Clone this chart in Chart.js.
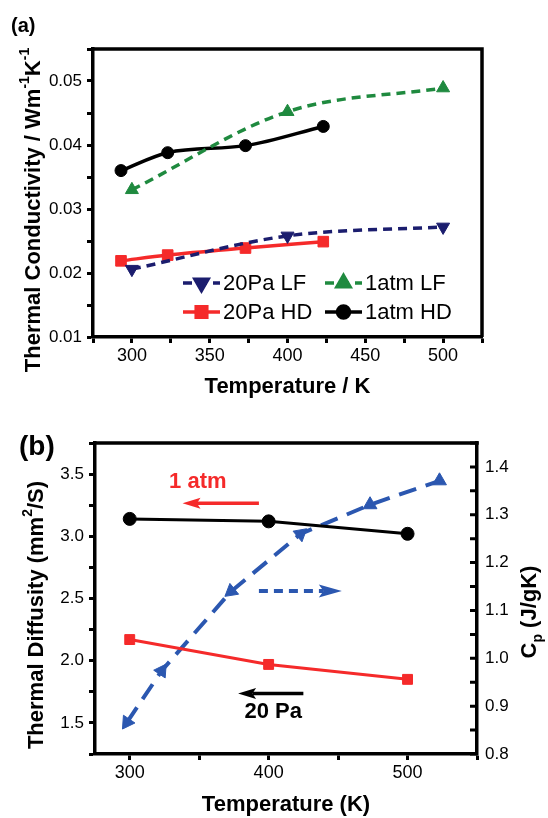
<!DOCTYPE html>
<html>
<head>
<meta charset="utf-8">
<script src="https://cdn.jsdelivr.net/npm/chart.js@4.4.1/dist/chart.umd.min.js"></script>
<style>
  html, body { margin: 0; padding: 0; background: #fff; }
  #wrap { position: relative; width: 548px; height: 818px; overflow: hidden; }
  #chartA { position: absolute; left: 0; top: 0; }
  #chartB { position: absolute; left: 0; top: 400px; }
</style>
</head>
<body>
<div id="wrap">
  <canvas id="chartA" width="548" height="400"></canvas>
  <canvas id="chartB" width="548" height="418"></canvas>
</div>
<script>
// ─── DATOS (a): conductividad térmica ──────────────────────────────────────
const tempLF   = [300, 400, 500];
const k20PaLF  = [0.0206, 0.0258, 0.0272];
const k1atmLF  = [0.0330, 0.0452, 0.0489];
const tempHD   = [293, 323, 373, 423];
const k20PaHD  = [0.0219, 0.0228, 0.0239, 0.0249];
const k1atmHD  = [0.0360, 0.0388, 0.0399, 0.0429];
const xLabelsA = [300, 350, 400, 450, 500];
const yLabelsA = [0.01, 0.02, 0.03, 0.04, 0.05];

// ─── DATOS (b): difusividad y Cp ───────────────────────────────────────────
const tempB     = [300, 400, 500];
const diff1atm  = [3.14, 3.12, 3.02];
const diff20Pa  = [2.17, 1.97, 1.85];
const tempCp    = [298, 323, 373, 423, 473, 523];
const cpVals    = [0.866, 0.974, 1.140, 1.260, 1.321, 1.371];
const xTicksB   = [300, 350, 400, 450, 500, 550];
const xLabelsB  = [300, 400, 500];
const yLabelsB  = [1.5, 2.0, 2.5, 3.0, 3.5];
const y1LabelsB = [0.8, 0.9, 1.0, 1.1, 1.2, 1.3, 1.4];

const FONT = "'Liberation Sans', Arial, Helvetica, sans-serif";
Chart.defaults.font.family = FONT;
Chart.defaults.color = '#000';

const NAVY = '#1b1d6e', GREEN = '#1f8a3f', RED = '#f52a2a', BLUE = '#2b57b0';

const pts = (xs, ys) => xs.map((x, i) => ({ x, y: ys[i] }));
const pick = (list, dec) => v => {
  const hit = list.find(l => Math.abs(l - v) < 1e-9);
  return hit === undefined ? '' : hit.toFixed(dec);
};

// texto con superíndices / subíndices
function drawRich(ctx, parts, cx, cy, size, rot) {
  const small = Math.round(size * 0.62);
  ctx.save();
  ctx.translate(cx, cy);
  ctx.rotate(rot);
  ctx.textBaseline = 'middle';
  ctx.textAlign = 'left';
  ctx.fillStyle = '#000';
  let total = 0;
  const widths = parts.map(([t, m]) => {
    ctx.font = `bold ${m ? small : size}px ${FONT}`;
    const w = ctx.measureText(t).width;
    total += w;
    return w;
  });
  let x = -total / 2;
  parts.forEach(([t, m], i) => {
    ctx.font = `bold ${m ? small : size}px ${FONT}`;
    const dy = m === 1 ? -size * 0.42 : m === -1 ? size * 0.38 : 0;
    ctx.fillText(t, x, dy);
    x += widths[i];
  });
  ctx.restore();
}

function frameLines(ctx, area, sides) {
  ctx.save();
  ctx.strokeStyle = '#000';
  ctx.lineWidth = 3.5;
  ctx.beginPath();
  if (sides.includes('top'))   { ctx.moveTo(area.left - 1.75, area.top); ctx.lineTo(area.right + 1.75, area.top); }
  if (sides.includes('right')) { ctx.moveTo(area.right, area.top); ctx.lineTo(area.right, area.bottom); }
  ctx.stroke();
  ctx.restore();
}

function axisCommon(tickLen) {
  return {
    grid: { drawOnChartArea: false, drawTicks: tickLen > 0, tickLength: tickLen, tickWidth: 3, tickColor: '#000' },
    border: { display: true, width: 3.5, color: '#000' }
  };
}

// ─── GRÁFICO (a) ───────────────────────────────────────────────────────────
const dsA = [
  { label: '20Pa LF', data: pts(tempLF, k20PaLF), borderColor: NAVY, backgroundColor: NAVY,
    borderDash: [9, 6], pointStyle: 'triangle', rotation: 180, pointRadius: 7.5 },
  { label: '1atm LF', data: pts(tempLF, k1atmLF), borderColor: GREEN, backgroundColor: GREEN,
    borderDash: [9, 6], pointStyle: 'triangle', rotation: 0, pointRadius: 7.5 },
  { label: '20Pa HD', data: pts(tempHD, k20PaHD), borderColor: RED, backgroundColor: RED,
    pointStyle: 'rect', pointRadius: 7.5 },
  { label: '1atm HD', data: pts(tempHD, k1atmHD), borderColor: '#000', backgroundColor: '#000',
    pointStyle: 'circle', pointRadius: 6 }
].map(d => ({ ...d, borderWidth: 3.5, pointBorderWidth: 1, pointBorderColor: d.borderColor,
  cubicInterpolationMode: 'monotone', tension: 0.4 }));

const decorA = {
  id: 'decorA',
  afterDraw(chart) {
    const { ctx, chartArea } = chart;
    frameLines(ctx, chartArea, ['top', 'right']);
    // etiqueta del panel
    ctx.save();
    ctx.font = `bold 20px ${FONT}`;
    ctx.fillStyle = '#000';
    ctx.textBaseline = 'middle';
    ctx.fillText('(a)', 11, 26);
    ctx.restore();
    // título eje Y
    drawRich(ctx, [['Thermal Conductivity / Wm'], ['-1', 1], ['K'], ['-1', 1]], 34, 210, 22, -Math.PI / 2);
    // leyenda
    const slots = [[183, 283], [325, 283], [183, 312], [325, 312]];
    chart.data.datasets.forEach((d, i) => {
      const [lx, ly] = slots[i];
      ctx.save();
      ctx.strokeStyle = d.borderColor;
      ctx.lineWidth = 3.5;
      ctx.setLineDash(d.borderDash || []);
      ctx.beginPath();
      ctx.moveTo(lx, ly);
      ctx.lineTo(lx + 37, ly);
      ctx.stroke();
      ctx.setLineDash([]);
      ctx.fillStyle = d.backgroundColor;
      Chart.helpers.drawPoint(ctx, { pointStyle: d.pointStyle, rotation: d.rotation || 0,
        radius: d.pointRadius, borderWidth: 1 }, lx + 18.5, ly);
      ctx.fillStyle = '#000';
      ctx.font = `22px ${FONT}`;
      ctx.textBaseline = 'middle';
      ctx.fillText(d.label, lx + 40, ly + 1);
      ctx.restore();
    });
  }
};

new Chart(document.getElementById('chartA'), {
  type: 'line',
  data: { datasets: dsA },
  options: {
    responsive: false,
    animation: false,
    events: [],
    layout: { padding: { top: 49, right: 66, left: 0, bottom: 0 } },
    plugins: { legend: { display: false }, tooltip: { enabled: false } },
    scales: {
      x: {
        type: 'linear', min: 275, max: 525,
        ...axisCommon(6),
        ticks: { stepSize: 25, autoSkip: false, maxRotation: 0, padding: 2,
                 font: { size: 18 }, color: '#000', callback: pick(xLabelsA, 0) },
        title: { display: true, text: 'Temperature / K', font: { size: 22, weight: 'bold' },
                 color: '#000', padding: 0 },
        afterFit(s) { s.height = 63; }
      },
      y: {
        min: 0.01, max: 0.055,
        ...axisCommon(6),
        ticks: { stepSize: 0.005, autoSkip: false, padding: 5,
                 font: { size: 17 }, color: '#000', callback: pick(yLabelsA, 2) },
        afterFit(s) { s.width = 93; }
      }
    }
  },
  plugins: [decorA]
});

// ─── GRÁFICO (b) ───────────────────────────────────────────────────────────
const cpRot = [214, 34, 231, 50, 0, 0];

const dsB = [
  { label: '1 atm', data: pts(tempB, diff1atm), yAxisID: 'y', borderColor: '#000', backgroundColor: '#000',
    borderWidth: 3, pointStyle: 'circle', pointRadius: 6.5 },
  { label: '20 Pa', data: pts(tempB, diff20Pa), yAxisID: 'y', borderColor: RED, backgroundColor: RED,
    borderWidth: 3, pointStyle: 'rect', pointRadius: 7 },
  { label: 'Cp', data: pts(tempCp, cpVals), yAxisID: 'y1', borderColor: BLUE, backgroundColor: BLUE,
    borderWidth: 4, borderDash: [18, 10], pointStyle: 'triangle', rotation: cpRot, pointRadius: 8 }
].map(d => ({ ...d, tension: 0, pointBorderWidth: 1, pointBorderColor: d.borderColor }));

function arrow(ctx, x1, y, x2, color, lw, dash, headLen, headW) {
  const dir = Math.sign(x2 - x1);
  ctx.save();
  ctx.strokeStyle = color;
  ctx.fillStyle = color;
  ctx.lineWidth = lw;
  ctx.setLineDash(dash);
  ctx.beginPath();
  ctx.moveTo(x1, y);
  ctx.lineTo(x2 - dir * headLen * 0.8, y);
  ctx.stroke();
  ctx.setLineDash([]);
  ctx.beginPath();
  ctx.moveTo(x2, y);
  ctx.lineTo(x2 - dir * headLen, y - headW / 2);
  ctx.lineTo(x2 - dir * headLen * 0.8, y);
  ctx.lineTo(x2 - dir * headLen, y + headW / 2);
  ctx.closePath();
  ctx.fill();
  ctx.restore();
}

const decorB = {
  id: 'decorB',
  afterDraw(chart) {
    const { ctx, chartArea, scales: { x, y, y1 } } = chart;
    frameLines(ctx, chartArea, ['top']);

    // marcas hacia dentro del eje derecho
    ctx.save();
    ctx.strokeStyle = '#000';
    ctx.lineWidth = 3;
    ctx.beginPath();
    y1.ticks.forEach(t => {
      const py = y1.getPixelForValue(t.value);
      ctx.moveTo(chartArea.right, py);
      ctx.lineTo(chartArea.right - 7, py);
    });
    ctx.stroke();
    ctx.restore();

    ctx.save();
    ctx.font = `bold 28px ${FONT}`;
    ctx.fillStyle = '#000';
    ctx.textBaseline = 'middle';
    ctx.fillText('(b)', 19, 47);
    ctx.restore();

    drawRich(ctx, [['Thermal Diffusity (mm'], ['2', 1], ['/S)']], 37, 215, 22, -Math.PI / 2);
    drawRich(ctx, [['C'], ['p', -1], [' (J/gK)']], 530, 212, 22, -Math.PI / 2);

    // flechas y rótulos
    arrow(ctx, x.getPixelForValue(393), y.getPixelForValue(3.266), x.getPixelForValue(338), RED, 3.5, [], 18, 11);
    arrow(ctx, x.getPixelForValue(425), y.getPixelForValue(1.736), x.getPixelForValue(378), '#000', 3.5, [], 18, 11);
    arrow(ctx, x.getPixelForValue(393), y.getPixelForValue(2.561), x.getPixelForValue(452.7), BLUE, 4, [9, 6], 23, 13);

    ctx.save();
    ctx.textAlign = 'center';
    ctx.textBaseline = 'middle';
    ctx.font = `bold 22px ${FONT}`;
    ctx.fillStyle = RED;
    ctx.fillText('1 atm', x.getPixelForValue(349), y.getPixelForValue(3.437));
    ctx.fillStyle = '#000';
    ctx.fillText('20 Pa', x.getPixelForValue(403.3), y.getPixelForValue(1.587));
    ctx.restore();
  }
};

new Chart(document.getElementById('chartB'), {
  type: 'line',
  data: { datasets: dsB },
  options: {
    responsive: false,
    animation: false,
    events: [],
    layout: { padding: { top: 43, right: 0, left: 0, bottom: 0 } },
    plugins: { legend: { display: false }, tooltip: { enabled: false } },
    scales: {
      x: {
        type: 'linear', min: 275, max: 550,
        ...axisCommon(6),
        ticks: { autoSkip: false, maxRotation: 0, padding: 2,
                 font: { size: 18 }, color: '#000', callback: pick(xLabelsB, 0) },
        afterBuildTicks(s) { s.ticks = xTicksB.map(v => ({ value: v })); },
        title: { display: true, text: 'Temperature (K)', font: { size: 22, weight: 'bold' },
                 color: '#000', padding: 0 },
        afterFit(s) { s.height = 64; }
      },
      y: {
        position: 'left', min: 1.25, max: 3.75,
        ...axisCommon(6),
        ticks: { stepSize: 0.25, autoSkip: false, padding: 5,
                 font: { size: 17 }, color: '#000', callback: pick(yLabelsB, 1) },
        afterFit(s) { s.width = 95; }
      },
      y1: {
        position: 'right', min: 0.8, max: 1.45,
        ...axisCommon(0),
        ticks: { stepSize: 0.05, autoSkip: false, padding: 8,
                 font: { size: 17 }, color: '#000', callback: pick(y1LabelsB, 1) },
        afterFit(s) { s.width = 71; }
      }
    }
  },
  plugins: [decorB]
});
</script>
</body>
</html>
